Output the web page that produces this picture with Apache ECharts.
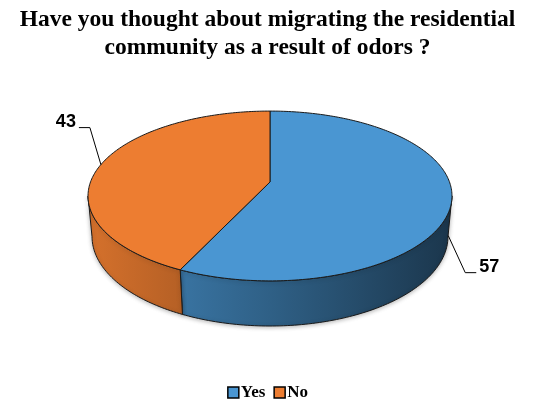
<!DOCTYPE html>
<html>
<head>
<meta charset="utf-8">
<script src="https://cdn.jsdelivr.net/npm/echarts@6/dist/echarts.min.js"></script>
<style>
  html, body { margin: 0; padding: 0; background: #fff; }
  #chart { width: 535px; height: 406px; }
</style>
</head>
<body>
<div id="chart"></div>
<script>
// Survey answers
const categories = ['Yes', 'No'];
const values = [57, 43];
const topColors = ['#4a96d2', '#ed7d31'];

const titleText = 'Have you thought about migrating the residential\ncommunity as a result of odors ?';

// Tilted-disc camera used to draw the 3D pie
const cam = (function () {
  const alpha = 27.4 * Math.PI / 180;
  return { cx: 270, cy: 182, R: 179.5, sinA: Math.sin(alpha), cosA: Math.cos(alpha), D: 968, h: 46 };
})();

// Angle theta is measured clockwise from the far (top) point of the disc; yh is the height (0 = top face)
function project(theta, yh) {
  const X = cam.R * Math.sin(theta);
  const Z = cam.R * Math.cos(theta);
  const up = yh * cam.cosA + Z * cam.sinA;
  const depth = Z * cam.cosA - yh * cam.sinA;
  const s = cam.D / (cam.D + depth);
  return [cam.cx + X * s, cam.cy - up * s];
}

function arcPoints(a0, a1, yh) {
  const pts = [];
  const n = Math.max(2, Math.ceil(Math.abs(a1 - a0) / (Math.PI / 180)));
  for (let i = 0; i <= n; i++) pts.push(project(a0 + (a1 - a0) * i / n, yh));
  return pts;
}

function shade(hex, f) {
  const n = parseInt(hex.slice(1), 16);
  const r = Math.round(((n >> 16) & 255) * f);
  const g = Math.round(((n >> 8) & 255) * f);
  const b = Math.round((n & 255) * f);
  return 'rgb(' + r + ',' + g + ',' + b + ')';
}

const total = values.reduce((a, b) => a + b, 0);
const TWO_PI = Math.PI * 2;
// silhouette angles of the visible wall
const kPersp = cam.R * cam.cosA / cam.D;
const wallFrom = Math.acos(-kPersp);
const wallTo = TWO_PI - wallFrom;
const edgeColor = '#1a1a1a';

function sliceRenderer(idx) {
  return function (params, api) {
    const v = api.value(0);
    let before = 0;
    for (let j = 0; j < idx; j++) before += values[j];
    const a0 = before / total * TWO_PI;
    const a1 = (before + v) / total * TWO_PI;
    const base = topColors[idx];
    const children = [];

    // front wall
    const w0 = Math.max(a0, wallFrom), w1 = Math.min(a1, wallTo);
    if (w1 > w0) {
      const topArc = arcPoints(w0, w1, 0);
      const botArc = arcPoints(w1, w0, -cam.h);
      const left = cam.cx - 182, right = cam.cx + 182;
      children.push({
        type: 'polygon',
        z2: 1,
        shape: { points: topArc.concat(botArc) },
        style: {
          fill: new echarts.graphic.LinearGradient(left, 0, right, 0, [
            { offset: 0, color: shade(base, 0.9) },
            { offset: 0.5, color: shade(base, 0.64) },
            { offset: 1, color: shade(base, 0.36) }
          ], true),
          stroke: edgeColor,
          lineWidth: 1,
          shadowColor: 'rgba(0,0,0,0.28)',
          shadowBlur: 4,
          shadowOffsetY: 1
        }
      });
    }

    // top face
    const topPts = [[cam.cx, cam.cy]].concat(arcPoints(a0, a1, 0));
    children.push({
      type: 'polygon',
      z2: 2,
      shape: { points: topPts },
      style: { fill: base, stroke: edgeColor, lineWidth: 1 }
    });

    // value label with leader line
    const mid = (a0 + a1) / 2;
    const front = Math.cos(mid) < 0;
    const sx = Math.sin(mid) >= 0 ? 1 : -1;
    const anchor = project(mid, front ? -cam.h * 0.85 : 0);
    const elbow = [anchor[0] + sx * (front ? 17 : 11), anchor[1] + (front ? 37 : -37)];
    const end = [elbow[0] + sx * 11, elbow[1]];
    children.push({
      type: 'polyline',
      z2: 3,
      shape: { points: [anchor, elbow, end] },
      style: { fill: null, stroke: '#000', lineWidth: 1 }
    });
    children.push({
      type: 'text',
      z2: 3,
      x: end[0] + sx * 3,
      y: end[1] - 6,
      style: {
        text: String(v),
        fill: '#000',
        font: 'bold 18px "Liberation Sans", Arial, sans-serif',
        textAlign: sx > 0 ? 'left' : 'right',
        textVerticalAlign: 'middle'
      }
    });

    return { type: 'group', children: children };
  };
}

const chart = echarts.init(document.getElementById('chart'), null, { renderer: 'canvas' });
chart.setOption({
  animation: false,
  backgroundColor: '#fff',
  title: {
    text: titleText,
    left: 'center',
    top: 1,
    textStyle: {
      fontFamily: '"Liberation Serif", "Times New Roman", serif',
      fontWeight: 'bold',
      fontSize: 23.5,
      lineHeight: 28,
      color: '#000'
    }
  },
  legend: {
    data: categories,
    bottom: 0,
    left: 'center',
    icon: 'rect',
    itemWidth: 11,
    itemHeight: 11,
    itemGap: 8,
    itemStyle: { borderColor: '#000', borderWidth: 1.5 },
    textStyle: {
      fontFamily: '"Liberation Serif", "Times New Roman", serif',
      fontWeight: 'bold',
      fontSize: 17,
      color: '#000',
      padding: [0, 0, 0, -3]
    }
  },
  series: categories.map(function (name, i) {
    return {
      type: 'custom',
      name: name,
      coordinateSystem: 'none',
      itemStyle: { color: topColors[i] },
      data: [[values[i]]],
      renderItem: sliceRenderer(i)
    };
  })
});
</script>
</body>
</html>
